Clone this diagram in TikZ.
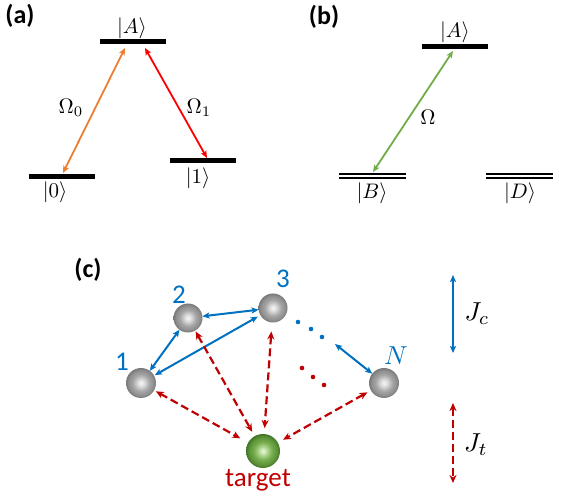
\documentclass[tikz,border=0pt]{standalone}
\usepackage{fontspec}
\newfontfamily\carlito{Carlito}
\usetikzlibrary{arrows.meta}
\definecolor{myorange}{RGB}{237,125,49}
\definecolor{myred}{RGB}{255,0,0}
\definecolor{mygreen}{RGB}{112,173,71}
\definecolor{myblue}{RGB}{0,112,192}
\definecolor{mydred}{RGB}{192,0,0}
\definecolor{sgA}{RGB}{240,240,240}
\definecolor{sgB}{RGB}{205,205,205}
\definecolor{sgC}{RGB}{165,165,165}
\definecolor{sgD}{RGB}{142,142,142}
\definecolor{sgE}{RGB}{120,120,120}
\definecolor{snA}{RGB}{220,240,205}
\definecolor{snB}{RGB}{160,205,125}
\definecolor{snC}{RGB}{115,170,75}
\definecolor{snD}{RGB}{90,145,55}
\definecolor{snE}{RGB}{65,115,38}
\pgfdeclareradialshading{graysphere}{\pgfpoint{0bp}{0bp}}{color(0bp)=(sgA); color(2bp)=(sgA); color(8bp)=(sgB); color(14bp)=(sgC); color(21bp)=(sgD); color(25bp)=(sgE); color(50bp)=(sgE)}
\pgfdeclareradialshading{greensphere}{\pgfpoint{0bp}{0bp}}{color(0bp)=(snA); color(2bp)=(snA); color(8bp)=(snB); color(14bp)=(snC); color(21bp)=(snD); color(25bp)=(snE); color(50bp)=(snE)}
\tikzset{
  level/.style={fill=black, minimum width=66pt, minimum height=5pt, inner sep=0pt, outer sep=0pt},
  dlevel/.style={minimum width=67pt, minimum height=6pt, inner sep=0pt, outer sep=0pt,
    path picture={
      \fill (path picture bounding box.north west) rectangle ([yshift=-1.8pt]path picture bounding box.north east);
      \fill (path picture bounding box.south west) rectangle ([yshift=1.8pt]path picture bounding box.south east);
    }},
  statelbl/.style={inner sep=0pt, scale=2.1},
  biglbl/.style={inner sep=0pt, scale=2.6},
  panellbl/.style={inner sep=0pt, font=\fontsize{26}{30}\selectfont\carlito\bfseries},
  numlbl/.style={inner sep=0pt, text=myblue, font=\fontsize{27}{30}\selectfont\carlito},
  trans/.style={line width=1.8pt, {Stealth[length=7pt,width=6pt,inset=1.5pt]}-{Stealth[length=7pt,width=6pt,inset=1.5pt]}},
  coup/.style={line width=2pt, color=myblue, {Stealth[length=7pt,width=6pt,inset=1.5pt]}-{Stealth[length=7pt,width=6pt,inset=1.5pt]}},
  tcoup/.style={line width=2.2pt, color=mydred, dash pattern=on 8pt off 4pt, {Stealth[length=8pt,width=7pt,inset=2.5pt]}-{Stealth[length=8pt,width=7pt,inset=2.5pt]}},
  ball/.style={circle, minimum size=#1, inner sep=0pt, outer sep=0pt, shading=graysphere},
  dotb/.style={circle, fill=myblue, minimum size=4.6pt, inner sep=0pt},
  dotr/.style={circle, fill=mydred, minimum size=4.6pt, inner sep=0pt},
}
\begin{document}
\begin{tikzpicture}[x=1pt,y=-1pt]
\useasboundingbox (0,0) rectangle (565,494);
% ---------- (a)
\node[panellbl] (la) at (20,16) {(a)};
\node[level] (a-A) at (133,42) {};
\node[level] (a-0) at (61.5,177) {};
\node[level] (a-1) at (202.5,161) {};
\node[statelbl] (ta-A) at (132,28) {$|A\rangle$};
\node[statelbl] (ta-0) at (55,192) {$|0\rangle$};
\node[statelbl] (ta-1) at (198,178) {$|1\rangle$};
\coordinate (o1) at (125,48);
\coordinate (o2) at (63,173);
\coordinate (r1) at (145,48);
\coordinate (r2) at (207,158);
\draw[trans, myorange] (o1) -- (o2);
\draw[trans, myred] (r1) -- (r2);
\node[statelbl] (om0) at (71,108) {$\Omega_0$};
\node[statelbl] (om1) at (199,108) {$\Omega_1$};
% ---------- (b)
\node[panellbl] (lb) at (324,17) {(b)};
\node[level] (b-A) at (455,47) {};
\node[dlevel] (b-B) at (372.5,176) {};
\node[dlevel] (b-D) at (519.5,176) {};
\node[statelbl] (tb-A) at (455,32) {$|A\rangle$};
\node[statelbl] (tb-B) at (372,193) {$|B\rangle$};
\node[statelbl] (tb-D) at (520,193) {$|D\rangle$};
\coordinate (g1) at (453,51);
\coordinate (g2) at (373,172);
\draw[trans, mygreen] (g1) -- (g2);
\node[statelbl] (omb) at (428,117) {$\Omega$};
% ---------- (c)
\node[panellbl] (lc) at (88,270) {(c)};
\node[ball=30pt] (s1) at (141,383) {};
\node[ball=29pt] (s2) at (188,318) {};
\node[ball=29pt] (s3) at (273,308) {};
\node[ball=30pt] (sN) at (384,383) {};
\node[ball=34pt, shading=greensphere] (tg) at (263,451) {};
\node[numlbl] (n1) at (122,362) {1};
\node[numlbl] (n2) at (179,295) {2};
\node[numlbl] (n3) at (283,279) {3};
\node[biglbl, text=myblue] (nN) at (396,356) {$N$};
\node[inner sep=0pt, text=mydred, font=\fontsize{27}{30}\selectfont\carlito, anchor=base] (tl) at (258,486) {target};
% blue couplings
\draw[coup] (s2) -- (s3);
\draw[coup] (s1) -- (s2);
\draw[coup, shorten <=1pt, shorten >=3pt] (s1) -- (s3);
\node[dotb] (db1) at (298,322) {};
\node[dotb] (db2) at (311,329) {};
\node[dotb] (db3) at (322,337) {};
\coordinate (bN) at (335,344);
\draw[coup] (bN) -- (sN);
% red couplings
\node[dotr] (dr1) at (302,368) {};
\node[dotr] (dr2) at (313,377) {};
\node[dotr] (dr3) at (324,385) {};
\draw[tcoup, shorten <=2pt, shorten >=9pt] (s1) -- (tg);
\draw[tcoup, shorten <=1pt, shorten >=5pt] (s2) -- (tg);
\draw[tcoup, shorten <=9pt, shorten >=6pt] (s3) -- (tg);
\draw[tcoup, shorten <=4pt, shorten >=6pt] (sN) -- (tg);
% legend
\coordinate (jc1) at (453,275);
\coordinate (jc2) at (453,353);
\draw[coup, line width=2.4pt] (jc1) -- (jc2);
\node[biglbl] (jc) at (477,314) {$J_c$};
\coordinate (jt1) at (453,403);
\coordinate (jt2) at (453,483);
\draw[tcoup] (jt1) -- (jt2);
\node[biglbl] (jt) at (476,445) {$J_t$};
\end{tikzpicture}
\end{document}
